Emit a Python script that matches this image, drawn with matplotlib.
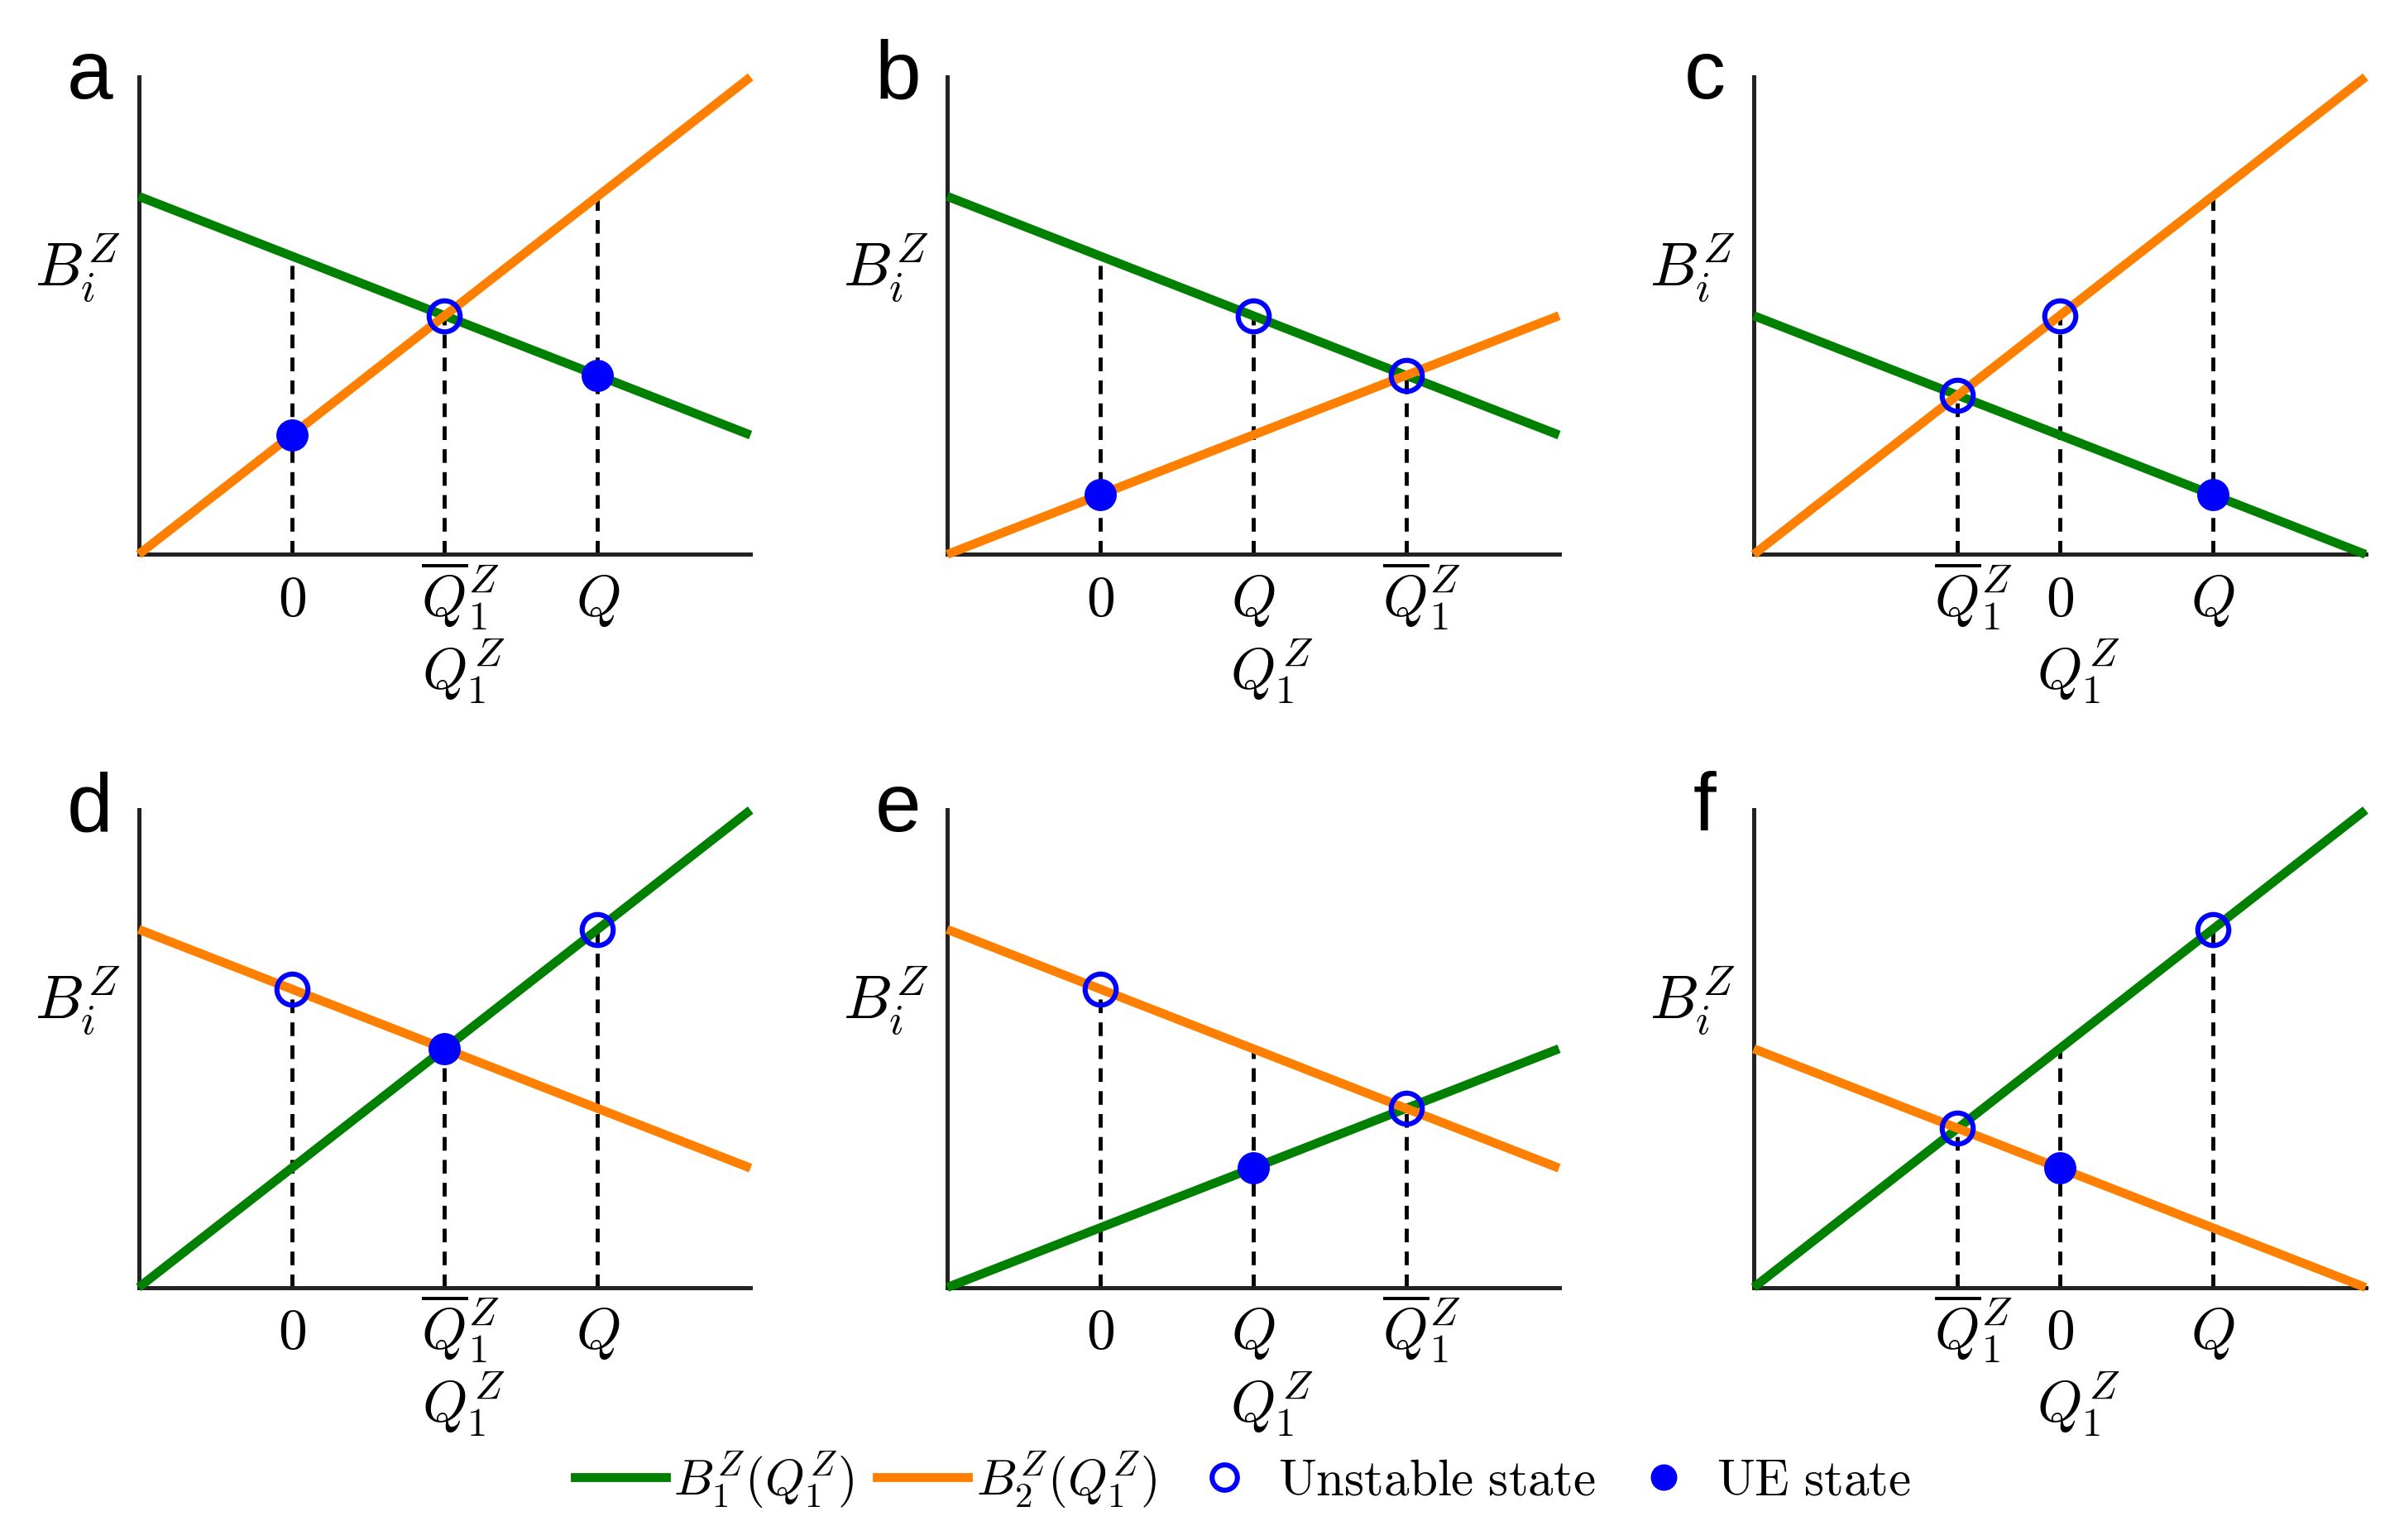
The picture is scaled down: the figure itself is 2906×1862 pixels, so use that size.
import matplotlib
matplotlib.use("Agg")
import matplotlib.pyplot as plt
import matplotlib.transforms as mtransforms
from matplotlib.lines import Line2D
import numpy as np

plt.rcParams['mathtext.fontset'] = 'cm'

# six schematic panels, lines given by their value at the left (x=0) and right (x=4) ends
letters = ['a', 'b', 'c', 'd', 'e', 'f']
green_ends = [(6, 2), (6, 2), (4, 0), (0, 8), (0, 4), (0, 8)]
orange_ends = [(0, 8), (0, 4), (0, 8), (6, 2), (6, 2), (4, 0)]
zero_pos = [1, 1, 2, 1, 1, 2]
q_pos = [3, 2, 3, 3, 2, 3]

# markers: (tick, line it sits on)  'x' = crossing point
hollow = [
    [('qbar', 'x')],
    [('Q', 'g'), ('qbar', 'x')],
    [('0', 'o'), ('qbar', 'x')],
    [('0', 'o'), ('Q', 'g')],
    [('0', 'o'), ('qbar', 'x')],
    [('qbar', 'x'), ('Q', 'g')],
]
filled = [
    [('0', 'o'), ('Q', 'g')],
    [('0', 'o')],
    [('Q', 'g')],
    [('qbar', 'x')],
    [('Q', 'g')],
    [('0', 'o')],
]

x_min, x_max = 0, 4
GREEN = '#008000'
ORANGE = '#ff8000'
BLUE = '#0000ff'

tick_text = {'0': r'$0$', 'Q': r'$Q$', 'qbar': r'$\overline{Q}_1^Z$'}

fig = plt.figure(figsize=(29.06, 18.62), dpi=100)
lefts = [0.0577, 0.394, 0.7295]
bottoms = [0.64, 0.164]
w, h = 0.2545, 0.31


def line_at(ends, x):
    return np.interp(x, [x_min, x_max], ends)


for i, let in enumerate(letters):
    ax = fig.add_axes([lefts[i % 3], bottoms[i // 3], w, h])
    g0, g1 = green_ends[i]
    o0, o1 = orange_ends[i]
    gs = (g1 - g0) / (x_max - x_min)
    os_ = (o1 - o0) / (x_max - x_min)
    xc = (o0 - g0) / (gs - os_)
    yc = g0 + gs * xc
    pos = {'0': zero_pos[i], 'Q': q_pos[i], 'qbar': xc}

    xs = np.array([x_min, x_max])
    ax.plot(xs, line_at(green_ends[i], xs), color=GREEN, lw=7.8,
            solid_capstyle='butt', zorder=3, clip_on=False)
    ax.plot(xs, line_at(orange_ends[i], xs), color=ORANGE, lw=7.8,
            solid_capstyle='butt', zorder=3, clip_on=False)

    keys = sorted(pos, key=lambda k: pos[k])
    for k in keys:
        xv = pos[k]
        top = max(line_at(green_ends[i], xv), line_at(orange_ends[i], xv))
        ax.plot([xv, xv], [0, top], color='black', lw=3.5,
                dashes=(3.4, 2.3), zorder=2)

    def pt(k, which):
        xv = pos[k]
        if which == 'x':
            return xc, yc
        ends = green_ends[i] if which == 'g' else orange_ends[i]
        return xv, line_at(ends, xv)

    for k, which in hollow[i]:
        px, py = pt(k, which)
        ax.plot(px, py, 'o', ms=27, mfc='none', mec=BLUE, mew=4.4, zorder=5)
    for k, which in filled[i]:
        px, py = pt(k, which)
        ax.plot(px, py, 'o', ms=27, color=BLUE, zorder=5)

    ax.set_xlim(x_min, x_max)
    ax.set_ylim(0, 8)
    ax.set_xticks([pos[k] for k in keys])
    ax.set_xticklabels([tick_text[k] for k in keys], fontsize=50,
                       va='baseline')
    ax.set_yticks([])
    ax.tick_params(axis='x', length=0, pad=53)
    # keep the Q of the overlined label on its tick, like the original
    shift = mtransforms.ScaledTranslation(0.19, 0, fig.dpi_scale_trans)
    for k, lab in zip(keys, ax.get_xticklabels()):
        if k == 'qbar':
            lab.set_transform(lab.get_transform() + shift)
    for s in ['top', 'right']:
        ax.spines[s].set_visible(False)
    for s in ['left', 'bottom']:
        ax.spines[s].set_linewidth(3.6)
        ax.spines[s].set_color('#222222')

    ax.text(0.53, -0.281, r'$Q_1^Z$', transform=ax.transAxes, ha='center',
            va='baseline', fontsize=50)
    ax.text(-0.1, 0.6, r'$B_i^Z$', transform=ax.transAxes, ha='center',
            va='center', fontsize=53)
    ax.text(-0.08, 0.955, let, transform=ax.transAxes, ha='center',
            va='baseline', fontsize=72, family='Liberation Sans')

handles = [
    Line2D([], [], color=GREEN, lw=7.8),
    Line2D([], [], color=ORANGE, lw=7.8),
    Line2D([], [], ls='none', marker='o', ms=22, mfc='none', mec=BLUE, mew=4.4),
    Line2D([], [], ls='none', marker='o', ms=22, color=BLUE),
]
labels = [r'$B_1^Z(Q_1^Z)$', r'$B_2^Z(Q_1^Z)$',
          r'$\mathrm{Unstable\ state}$', r'$\mathrm{UE\ state}$']
fig.legend(handles, labels, loc='center', bbox_to_anchor=(0.517, 0.039),
           ncol=4, frameon=False, fontsize=44, handlelength=1.8,
           handletextpad=0.15, columnspacing=0.45)

fig.savefig('out.png', dpi=100)
